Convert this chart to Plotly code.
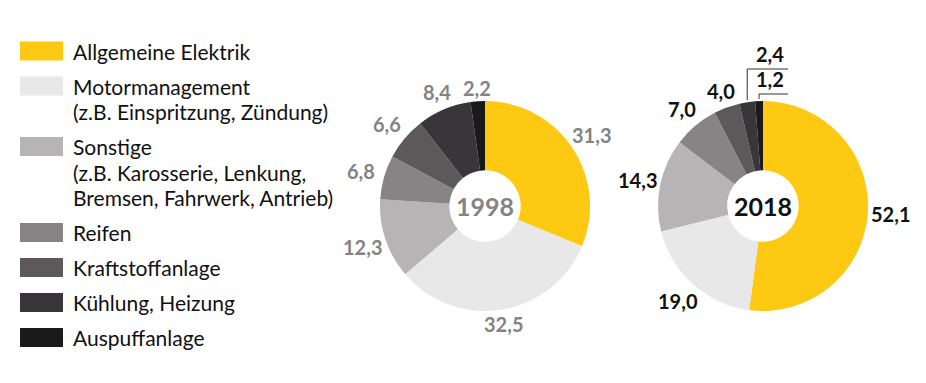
import math
import plotly.graph_objects as go

# ---------------- data ----------------
categories = ["Allgemeine Elektrik", "Motormanagement", "Sonstige", "Reifen",
              "Kraftstoffanlage", "Kühlung, Heizung", "Auspuffanlage"]
legend_lines = [["Allgemeine Elektrik"],
                ["Motormanagement", "(z.B. Einspritzung, Zündung)"],
                ["Sonstige", "(z.B. Karosserie, Lenkung,", "Bremsen, Fahrwerk, Antrieb)"],
                ["Reifen"], ["Kraftstoffanlage"], ["Kühlung, Heizung"], ["Auspuffanlage"]]
values_1998 = [31.3, 32.5, 12.3, 6.8, 6.6, 8.4, 2.2]
values_2018 = [52.1, 19.0, 14.3, 7.0, 4.0, 2.4, 1.2]
years = ["1998", "2018"]

# ---------------- style ----------------
colors = ["#FDC913", "#E8E8E8", "#B6B4B4", "#868484", "#5D595B", "#39363A", "#1B1A1B"]
W, H = 926, 383
FONT = "Lato"
R = 105
centers = [(485, 206), (763, 206)]
label_colors = ["#858383", "#111111"]


def px(x):
    return x / W


def py(y):
    return 1 - y / H


def fmt(v):
    return f"{v:.1f}".replace(".", ",")


fig = go.Figure()
annotations = []
shapes = []

for k, (vals, (cx, cy)) in enumerate(zip([values_1998, values_2018], centers)):
    fig.add_trace(go.Pie(
        labels=categories, values=vals, sort=False, direction="clockwise",
        rotation=0, hole=0.34, textinfo="none", hoverinfo="label+value",
        marker=dict(colors=colors, line=dict(width=0)),
        domain=dict(x=[px(cx - R), px(cx + R)], y=[py(cy + R), py(cy - R)]),
        showlegend=False,
    ))
    # center year
    annotations.append(dict(x=px(cx), y=py(cy), xref="paper", yref="paper",
                             xanchor="center", yanchor="middle",
                             text=f"<b>{years[k]}</b>", showarrow=False,
                             font=dict(family=FONT, size=25, color=label_colors[k])))
    total = sum(vals)
    cum = 0
    for i, v in enumerate(vals):
        mid = (cum + v / 2) / total * 2 * math.pi
        cum += v
        s, c = math.sin(mid), math.cos(mid)
        if k == 1 and v < 3:
            # leader line labels for tiny slices
            x0 = cx + R * s
            y0 = cy - R * c
            ytop = 69 if v > 2 else 94
            xr = 788
            shapes.append(dict(type="line", xref="paper", yref="paper",
                               x0=px(x0), y0=py(y0 - 2), x1=px(x0), y1=py(ytop),
                               line=dict(color="#333333", width=1)))
            shapes.append(dict(type="line", xref="paper", yref="paper",
                               x0=px(x0), y0=py(ytop), x1=px(xr), y1=py(ytop),
                               line=dict(color="#333333", width=1)))
            annotations.append(dict(x=px(xr - 2), y=py(ytop - 1), xref="paper", yref="paper",
                                    xanchor="right", yanchor="bottom",
                                    text=f"<b>{fmt(v)}</b>", showarrow=False,
                                    font=dict(family=FONT, size=20, color=label_colors[k])))
            continue
        d = R + 4 + 18 * abs(s) + 8 * abs(c)
        annotations.append(dict(x=px(cx + d * s), y=py(cy - d * c), xref="paper", yref="paper",
                                xanchor="center", yanchor="middle",
                                text=f"<b>{fmt(v)}</b>", showarrow=False,
                                font=dict(family=FONT, size=20, color=label_colors[k])))

# ---------------- legend ----------------
y = 51
for lines, col in zip(legend_lines, colors):
    shapes.append(dict(type="rect", xref="paper", yref="paper",
                       x0=px(20), x1=px(63), y0=py(y - 9.5), y1=py(y + 9.5),
                       fillcolor=col, line=dict(width=0)))
    for j, t in enumerate(lines):
        annotations.append(dict(x=px(71), y=py(y + 25.5 * j), xref="paper", yref="paper",
                                xanchor="left", yanchor="middle", text=t, showarrow=False,
                                font=dict(family=FONT, size=21, color="#111111")))
    y += 35 + 25.5 * (len(lines) - 1)

fig.update_layout(
    width=W, height=H, margin=dict(l=0, r=0, t=0, b=0),
    paper_bgcolor="white", plot_bgcolor="white",
    annotations=annotations, shapes=shapes,
)
fig.write_html("out.html", config={"displayModeBar": False},
               post_script="document.body.style.margin='0px';")
